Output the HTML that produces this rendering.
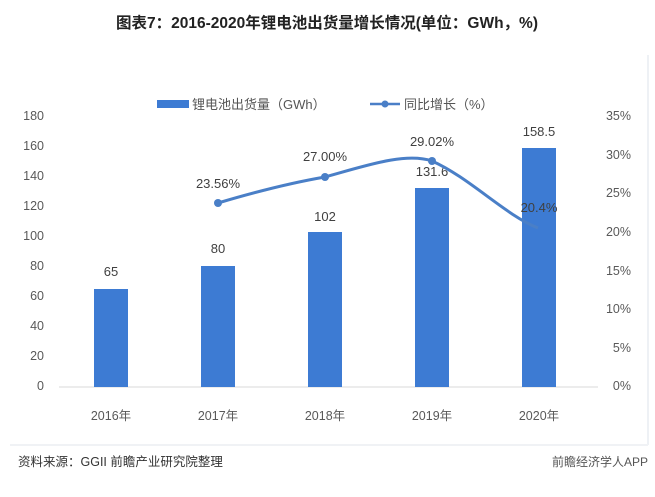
<!DOCTYPE html>
<html><head><meta charset="utf-8"><style>
body{margin:0;background:#fff;}
svg{display:block;font-family:"Liberation Sans","Noto Sans CJK SC",sans-serif;}
</style></head><body>
<svg width="655" height="497" xmlns="http://www.w3.org/2000/svg">
<line x1="648" y1="55" x2="648" y2="445" stroke="#eef1f5" stroke-width="2"/>
<line x1="10" y1="445" x2="648" y2="445" stroke="#f0f2f5" stroke-width="2"/>
<text x="327" y="28" text-anchor="middle" font-size="15.5" font-weight="bold" fill="#222">图表7：2016-2020年锂电池出货量增长情况(单位：GWh，%)</text>
<rect x="157" y="100" width="32" height="8" fill="#3d7bd3"/>
<text x="192" y="109" font-size="13" fill="#555">锂电池出货量（GWh）</text>
<line x1="370" y1="104" x2="400" y2="104" stroke="#4a7fc7" stroke-width="2.5"/>
<circle cx="385" cy="104" r="3.5" fill="#4a7fc7"/>
<text x="404" y="109" font-size="13" fill="#555">同比增长（%）</text>
<g font-size="12.5" fill="#595959" text-anchor="end">
<text x="44" y="120">180</text><text x="44" y="150">160</text><text x="44" y="180">140</text><text x="44" y="210">120</text><text x="44" y="240">100</text><text x="44" y="270">80</text><text x="44" y="300">60</text><text x="44" y="330">40</text><text x="44" y="360">20</text><text x="44" y="390">0</text>
</g>
<g font-size="12.5" fill="#595959" text-anchor="end">
<text x="631" y="120">35%</text><text x="631" y="159">30%</text><text x="631" y="197">25%</text><text x="631" y="236">20%</text><text x="631" y="275">15%</text><text x="631" y="313">10%</text><text x="631" y="352">5%</text><text x="631" y="390">0%</text>
</g>
<line x1="59" y1="387" x2="598" y2="387" stroke="#d9d9d9" stroke-width="1"/>
<g fill="#3d7bd3">
<rect x="94" y="289" width="34" height="98"/>
<rect x="201" y="266" width="34" height="121"/>
<rect x="308" y="232" width="34" height="155"/>
<rect x="415" y="188" width="34" height="199"/>
<rect x="522" y="148" width="34" height="239"/>
</g>
<g font-size="13" fill="#404040" text-anchor="middle">
<text x="111" y="276">65</text><text x="218" y="253">80</text><text x="325" y="221">102</text><text x="432" y="176">131.6</text><text x="539" y="136">158.5</text>
<text x="218" y="188">23.56%</text><text x="325" y="161">27.00%</text><text x="432" y="146">29.02%</text><text x="539" y="212">20.4%</text>
</g>
<path d="M218,203 C255,192 290,183 325,177 C365,166 405,152 432,161 C470,178 505,215 538,228" fill="none" stroke="#4a7fc7" stroke-width="3"/>
<g fill="#4a7fc7"><circle cx="218" cy="203" r="4"/><circle cx="325" cy="177" r="4"/><circle cx="432" cy="161" r="4"/></g>
<g font-size="12.5" fill="#595959" text-anchor="middle">
<text x="111" y="420">2016年</text><text x="218" y="420">2017年</text><text x="325" y="420">2018年</text><text x="432" y="420">2019年</text><text x="539" y="420">2020年</text>
</g>
<text x="18" y="466" font-size="12.5" fill="#333">资料来源：GGII 前瞻产业研究院整理</text>
<text x="648" y="466" font-size="12" fill="#555" text-anchor="end">前瞻经济学人APP</text>
</svg>
</body></html>
